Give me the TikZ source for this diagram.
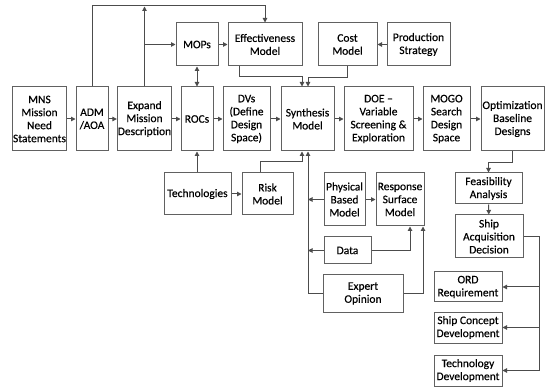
\documentclass[tikz,border=0pt]{standalone}
\usepackage{fontspec}
\setmainfont{Carlito}[FakeBold=0.35]
\usetikzlibrary{arrows.meta,calc}
\begin{document}
\begin{tikzpicture}[x=1pt,y=-1pt,
  box/.style={draw=black!62,line width=1pt,align=center,inner sep=0.5pt,
    font=\fontsize{11.5}{13}\selectfont\addfontfeature{FakeBold=0.35},text=black},
  conn/.style={draw=black!70,line width=1pt},
  arr/.style={conn,-{Triangle[length=4.5pt,width=4.5pt]}},
  darr/.style={conn,{Triangle[length=4.5pt,width=4.5pt]}-{Triangle[length=4.5pt,width=4.5pt]}}]
\fill[white] (0,0) rectangle (546,387);
\useasboundingbox (0,0) rectangle (546,387);
% main row
\node[box,minimum width=53,minimum height=64] (MNS) at (39.5,119) {MNS\\Mission\\Need\\Statements};
\node[box,minimum width=32,minimum height=64] (ADM) at (92,119) {ADM\\/AOA};
\node[box,minimum width=53,minimum height=64] (Exp) at (144.5,119) {Expand\\Mission\\Description};
\node[box,minimum width=32,minimum height=64] (ROC) at (197,119) {ROCs};
\node[box,minimum width=47,minimum height=64] (DV) at (246.5,119) {DVs\\(Define\\Design\\Space)};
\node[box,minimum width=53,minimum height=64] (Syn) at (307.5,119) {Synthesis\\Model};
\node[box,minimum width=69,minimum height=64] (DOE) at (378.5,119) {DOE --\\Variable\\Screening \&\\Exploration};
\node[box,minimum width=47,minimum height=64] (MOGO) at (446.5,119) {MOGO\\Search\\Design\\Space};
\node[box,minimum width=63,minimum height=64] (Opt) at (512.5,119) {Optimization\\Baseline\\Designs};
% top row
\node[box,minimum width=42,minimum height=43] (MOP) at (197,44.5) {MOPs};
\node[box,minimum width=74,minimum height=43] (Eff) at (265,44.5) {Effectiveness\\Model};
\node[box,minimum width=59,minimum height=43] (Cost) at (347.5,44.5) {Cost\\Model};
\node[box,minimum width=63,minimum height=43] (Prod) at (418.5,44.5) {Production\\Strategy};
% lower
\node[box,minimum width=67,minimum height=42] (Tech) at (197.5,194) {Technologies};
\node[box,minimum width=51,minimum height=42] (Risk) at (267.5,194) {Risk\\Model};
\node[box,minimum width=41,minimum height=53] (Phys) at (344.5,199.5) {Physical\\Based\\Model};
\node[box,minimum width=48,minimum height=53] (Resp) at (400,199.5) {Response\\Surface\\Model};
\node[box,minimum width=47,minimum height=27] (Data) at (347.5,250.5) {Data};
\node[box,minimum width=80,minimum height=37] (Expert) at (363,293.5) {Expert\\Opinion};
\node[box,minimum width=67,minimum height=31] (Feas) at (488.5,188.5) {Feasibility\\Analysis};
\node[box,minimum width=68,minimum height=43] (Ship) at (489,236.5) {Ship\\Acquisition\\Decision};
\node[box,minimum width=68,minimum height=30] (ORD) at (468,287) {ORD\\Requirement};
\node[box,minimum width=68,minimum height=31] (SCD) at (468,327.5) {Ship Concept\\Development};
\node[box,minimum width=68,minimum height=31] (TD) at (468,370.5) {Technology\\Development};
% coordinates
\coordinate (topY) at (0,6);
\coordinate (vx) at ([xshift=0.5]Syn.south);
\coordinate (rx) at (539,0);
% main row arrows
\draw[arr] (MNS) -- (ADM);
\draw[arr] (ADM) -- (Exp);
\draw[arr] (Exp) -- (ROC);
\draw[arr] (ROC) -- (DV);
\draw[arr] (DV) -- (Syn);
\draw[arr] (Syn) -- (DOE);
\draw[arr] (DOE) -- (MOGO);
\draw[arr] (MOGO) -- (Opt);
\draw[arr] (MOP) -- (Eff);
\draw[arr] (Prod) -- (Cost);
% top loop
\draw[arr] (ADM.north) -- (ADM.north |- topY) -| (Eff.north);
\draw[arr] (Exp.north) -- ([yshift=-0.5]Exp.north |- topY);
\draw[arr] (Exp.north |- MOP.west) -- (MOP.west);
\draw[darr] (MOP.south) -- (ROC.north);
\draw[arr] ([xshift=-26]Eff.south) -- ++(0,10) -| ([xshift=-5.5]Syn.north);
\draw[arr] (Cost.south) -- ++(0,11) -| ([xshift=0.5]Syn.north);
% lower
\draw[arr] (Tech.north -| ROC.south) -- (ROC.south);
\draw[arr] (Tech) -- (Risk);
\draw[arr] ([xshift=-7.5]Risk.north) -- ++(0,-11) -| ([xshift=-5.5]Syn.south);
\draw[arr] (Expert.west) -| (vx);
\draw[arr] (Phys.west) -- (Phys.west -| vx);
\draw[arr] (Phys) -- (Resp);
\draw[arr] (Data.west) -- (Data.west -| vx);
\draw[arr] (Data.east) -| ([xshift=10]Resp.south);
\draw[arr] (Expert.east) -| ([xshift=23]Resp.south);
% right
\draw[arr] (Opt.south) -- ++(0,11) -| (Feas.north);
\draw[arr] (Feas) -- (Ship);
\draw[arr] (Ship.east) -| (rx |- TD.east) -- (TD.east);
\draw[arr] (rx |- ORD.east) -- (ORD.east);
\draw[arr] (rx |- SCD.east) -- (SCD.east);
\end{tikzpicture}
\end{document}
